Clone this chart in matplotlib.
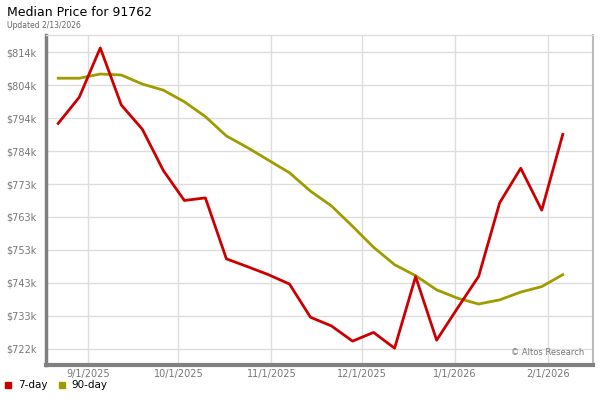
import numpy as np
import pandas as pd
import matplotlib
matplotlib.use("Agg")
import matplotlib.pyplot as plt
from matplotlib.lines import Line2D

# weekly dates and median prices ($k)
dates = pd.to_datetime([
    "2025-08-22", "2025-08-29", "2025-09-05", "2025-09-12", "2025-09-19",
    "2025-09-26", "2025-10-03", "2025-10-10", "2025-10-17", "2025-10-24",
    "2025-10-31", "2025-11-07", "2025-11-14", "2025-11-21", "2025-11-28",
    "2025-12-05", "2025-12-12", "2025-12-19", "2025-12-26", "2026-01-02",
    "2026-01-09", "2026-01-16", "2026-01-23", "2026-01-30", "2026-02-06",
])
price_7day = [792.2, 800.3, 815.6, 797.9, 790.4, 777.6, 768.3, 769.1, 750.2, 747.8,
              745.3, 742.4, 732.1, 729.4, 724.7, 727.4, 722.5, 744.7, 725.0, 735.0,
              744.8, 767.6, 778.3, 765.3, 788.8]
price_90day = [806.2, 806.2, 807.5, 807.2, 804.4, 802.5, 798.9, 794.3, 788.3, 784.7,
               780.8, 776.9, 771.2, 766.6, 760.3, 753.8, 748.4, 745.0, 740.6, 738.0,
               736.2, 737.5, 739.9, 741.6, 745.3]

ytick_vals = [722.4, 732.6, 742.8, 753.0, 763.2, 773.4, 783.6, 793.8, 804.0, 814.2]
ytick_labels = ["$722k", "$733k", "$743k", "$753k", "$763k", "$773k", "$784k",
                "$794k", "$804k", "$814k"]
xtick_dates = pd.to_datetime(["2025-09-01", "2025-10-01", "2025-11-01",
                              "2025-12-01", "2026-01-01", "2026-02-01"])
xtick_labels = ["9/1/2025", "10/1/2025", "11/1/2025", "12/1/2025", "1/1/2026", "2/1/2026"]

red = "#cc0000"
olive = "#a09c00"
gray = "#777777"

fig = plt.figure(figsize=(6, 4), dpi=100)
ax = fig.add_axes([0.077, 0.0875, 0.911, 0.825])

ax.plot(dates, price_90day, color=olive, lw=2.0, zorder=3)
ax.plot(dates, price_7day, color=red, lw=2.0, zorder=4)

ax.set_xlim(pd.Timestamp("2025-08-18"), pd.Timestamp("2026-02-16"))
ax.set_ylim(717.3, 819.6)
ax.set_yticks(ytick_vals)
ax.set_yticklabels(ytick_labels)
ax.set_xticks(xtick_dates)
ax.set_xticklabels(xtick_labels)
ax.tick_params(length=0, labelsize=7, colors=gray, pad=7)
ax.tick_params(axis="x", pad=3)

ax.grid(True, color="#dddddd", lw=1)
ax.set_axisbelow(True)
ax.spines["top"].set_color("#dddddd")
ax.spines["top"].set_linewidth(1)
ax.spines["right"].set_color("#bbbbbb")
ax.spines["right"].set_linewidth(1.5)
ax.spines["left"].set_color("#808080")
ax.spines["left"].set_linewidth(2.5)
ax.spines["bottom"].set_color("#808080")
ax.spines["bottom"].set_linewidth(3)

ax.text(0.985, 0.025, "© Altos Research", transform=ax.transAxes,
        ha="right", va="bottom", fontsize=6, color=gray)

fig.text(0.012, 0.968, "Median Price for 91762", fontsize=9, color="black", va="center")
fig.text(0.012, 0.937, "Updated 2/13/2026", fontsize=5.5, color="#666666", va="center")

handles = [Line2D([], [], marker="s", color=red, ls="none", markersize=5),
           Line2D([], [], marker="s", color=olive, ls="none", markersize=5)]
fig.legend(handles, ["7-day", "90-day"], loc="center left", bbox_to_anchor=(0.0, 0.037),
           ncol=2, frameon=False, fontsize=7.5, handlelength=0.8, handletextpad=0.5,
           columnspacing=1.0, borderaxespad=0)

fig.savefig("out.png", dpi=100)
